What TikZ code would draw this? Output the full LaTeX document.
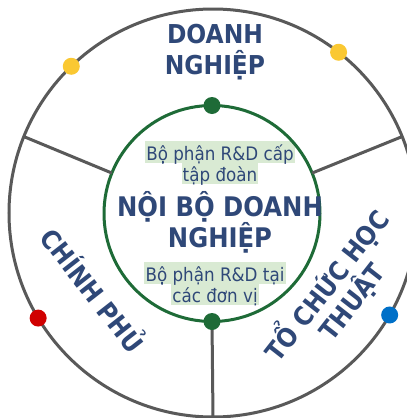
\documentclass[tikz,border=0pt]{standalone}
\usepackage{fontspec}
\setmainfont{DejaVu Sans}[FakeStretch=0.9]
\usetikzlibrary{backgrounds}

\definecolor{ringgray}{HTML}{595959}
\definecolor{coregreen}{HTML}{1E6B37}
\definecolor{navy}{HTML}{2F4878}
\definecolor{hl}{HTML}{D9EAD3}
\definecolor{dotyellow}{HTML}{FAC832}
\definecolor{dotred}{HTML}{D00000}
\definecolor{dotblue}{HTML}{0070C8}

\begin{document}
\begin{tikzpicture}[x=1pt,y=-1pt,
  ring/.style={circle, draw=ringgray, line width=3pt, inner sep=0pt, outer sep=0pt},
  core/.style={circle, draw=coregreen, line width=3pt, inner sep=0pt, outer sep=0pt},
  spoke/.style={draw=ringgray, line width=3pt},
  dot/.style={circle, fill=#1, inner sep=0pt, minimum size=17pt},
  bigtext/.style={font=\bfseries\fontsize{26}{30}\selectfont, text=navy, inner sep=0pt, anchor=base},
  coretext/.style={font=\bfseries\fontsize{27}{31}\selectfont, text=navy, inner sep=0pt, anchor=base},
  unittext/.style={font=\fontsize{18.6}{21}\selectfont, text=navy, inner xsep=1pt, inner ysep=0pt,
    text height=19pt, text depth=3pt, anchor=base},
  sidetext/.style={font=\bfseries\fontsize{26}{30}\selectfont, text=navy, inner sep=0pt,
    text height=19pt, text depth=0pt, anchor=center}
]
\useasboundingbox (0,0) rectangle (407,418);
\begin{scope}[on background layer]
  \fill[white] (0,0) rectangle (407,418);
\end{scope}
\clip (0,0) rectangle (407,418);

% rings
\node[ring, minimum size=408pt] (outer) at (213,213) {};
\node[core, minimum size=216pt] (core) at (212,213.5) {};

% spokes between the rings
\draw[spoke] (core.158) -- (outer.158);
\draw[spoke] (core.22) -- (outer.22);
\draw[spoke] (core.south) -- (outer.south);

% dots on the rings
\node[dot=dotyellow] (y1) at (outer.134) {};
\node[dot=dotyellow] (y2) at (outer.52) {};
\node[dot=dotred] (r1) at (outer.211) {};
\node[dot=dotblue] (b1) at (outer.330) {};
\node[dot=coregreen] (g1) at (core.north) {};
\node[dot=coregreen] (g2) at (core.south) {};

% sector titles
\node[bigtext] (dn1) at (215,43) {DOANH};
\node[bigtext] (dn2) at (215,74) {NGHIỆP};
\node[sidetext, rotate=-52] (cp) at (92,291) {CHÍNH PHỦ};
\node[sidetext, rotate=52] (th1) at (327,286) {TỔ CHỨC HỌC};
\node[sidetext, rotate=52] (th2) at (352,302) {THUẬT};

% core
\node[coretext] (nb1) at (220,216) {NỘI BỘ DOANH};
\node[coretext] (nb2) at (220,247) {NGHIỆP};
\node[unittext] (u1) at (220,160) {Bộ phận R\&D cấp};
\node[unittext] (u2) at (220,181) {tập đoàn};
\node[unittext] (u3) at (215,281) {Bộ phận R\&D tại};
\node[unittext] (u4) at (215,302) {các đơn vị};
\begin{scope}[on background layer]
  \foreach \n in {u1,u2,u3,u4}
    \fill[hl] (\n.south west) rectangle (\n.north east);
\end{scope}
\end{tikzpicture}
\end{document}
